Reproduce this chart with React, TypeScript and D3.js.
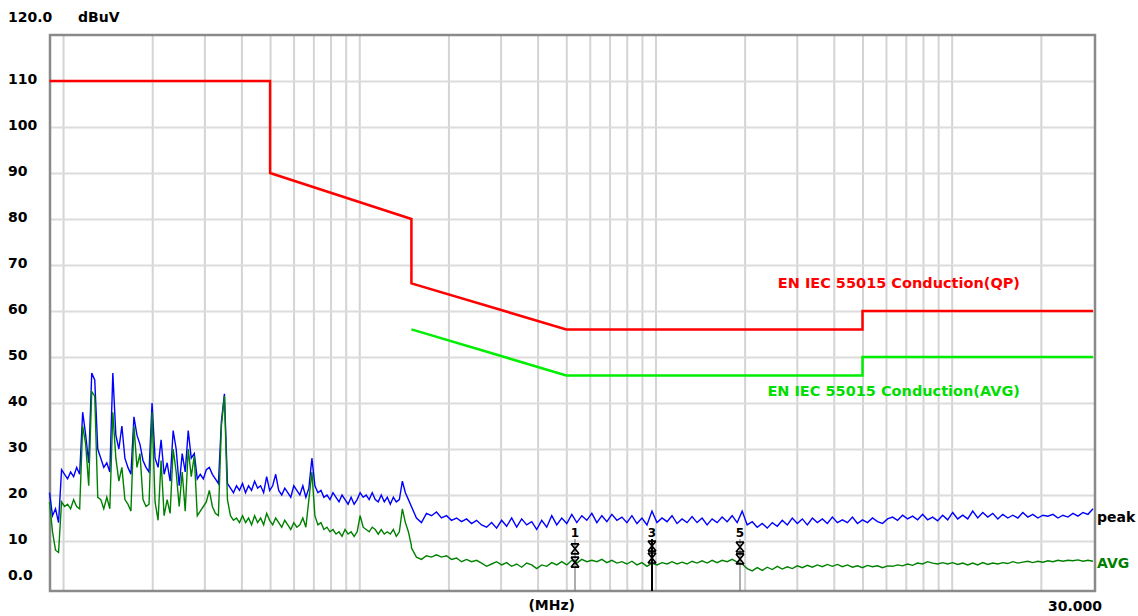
import React, { useEffect, useRef } from 'react';
import * as d3 from 'd3';

const W = 1138;
const H = 616;
const FONT = '"DejaVu Sans", Verdana, sans-serif';

// receiver scan bands in MHz, samples evenly spaced on log frequency inside each band
const bandA = [0.009, 0.15];
const bandB = [0.15, 30];

// dBuV
const peakBandA = [
  20.5, 15.5, 17.0, 14.0, 25.5, 24.5, 23.5, 25.0, 24.0, 26.0,
  24.5, 38.0, 33.0, 27.0, 46.5, 45.0, 30.0, 28.0, 26.0, 27.0,
  25.0, 46.5, 33.0, 30.0, 35.0, 28.0, 26.0, 24.5, 37.0, 33.0,
  31.0, 27.5, 26.0, 25.0, 40.0, 28.0, 26.0, 32.0, 24.5, 27.0,
  23.0, 34.0, 30.0, 22.0, 29.0, 25.0, 34.0, 28.0, 29.0, 23.5,
  24.5, 23.5, 25.5, 26.0, 24.5, 23.5, 22.5, 36.0, 42.0, 22.5,
  21.5, 20.5, 22.0, 21.0, 22.5, 20.5, 22.0, 21.0, 23.0, 21.5,
  22.0, 20.5, 24.0, 21.0, 22.0, 24.5, 21.0, 20.0, 21.5, 20.5,
  19.5, 22.0, 21.0, 20.0, 22.0, 19.5, 21.5, 28.0, 22.0, 20.5,
  21.0, 19.5, 20.0, 19.0, 20.5, 19.5, 18.5, 20.0, 19.0, 18.0,
  19.5, 18.0, 19.0, 20.5, 19.5, 20.0, 19.0, 20.5, 19.0, 18.5,
  20.0, 18.5, 19.5, 18.0, 19.5, 18.5, 19.0, 23.0, 20.5, 19.0,
  17.5,
];
const avgBandA = [
  18.5, 12.0, 8.0, 7.5, 18.5, 17.5, 18.0, 17.0, 19.0, 17.5,
  17.0, 35.0, 31.0, 22.0, 42.5, 41.5, 19.5, 19.0, 17.0, 19.5,
  17.0, 38.0, 28.0, 23.0, 26.0, 19.0, 18.0, 16.5, 35.0, 26.0,
  29.0, 19.0, 17.5, 18.0, 38.0, 18.5, 14.5, 27.5, 15.5, 19.0,
  16.0, 30.0, 25.0, 17.5, 25.0, 16.5, 30.0, 24.0, 28.5, 15.5,
  16.5, 17.5, 18.5, 21.0, 17.5, 16.0, 15.5, 35.0, 41.5, 19.0,
  15.5, 14.5, 15.0, 14.0, 15.5, 14.0, 15.0, 13.5, 15.5, 14.0,
  15.0, 13.5, 16.0, 14.5, 13.5, 15.0, 14.0, 13.0, 14.5, 13.5,
  12.5, 14.0, 13.0, 13.5, 15.0, 13.0, 19.0, 25.0, 15.5, 13.5,
  14.0, 12.5, 13.0, 12.0, 12.5, 11.5, 12.0, 11.0, 12.5, 11.5,
  12.0, 11.0, 12.0, 15.5, 13.0, 12.5, 12.0, 13.0, 12.5, 11.5,
  12.5, 11.5, 12.0, 11.5, 12.5, 11.0, 12.0, 17.0, 14.0, 12.0,
  9.0,
];
const peakBandB = [
  17.5, 15.0, 14.0, 16.0, 15.5, 16.3, 15.0, 15.5, 14.5, 15.0,
  14.2, 14.8, 13.8, 14.5, 13.5, 13.0, 14.0, 12.8, 14.5, 13.2,
  15.0, 13.0, 14.8, 13.5, 14.2, 12.5, 14.5, 13.0, 15.5, 13.5,
  15.0, 13.8, 15.8, 14.0, 15.5, 14.5, 16.0, 14.0, 15.5, 14.2,
  15.8, 14.5, 15.2, 14.0, 15.5, 13.8, 15.0, 13.5, 16.5, 14.0,
  15.0, 14.2, 15.5, 13.8, 14.8, 14.0, 15.3, 14.0, 15.0, 13.5,
  14.8, 14.0, 15.2, 14.2, 15.5, 14.0, 16.5, 13.5, 14.2, 13.0,
  13.8, 12.8, 14.0, 13.2, 14.5, 13.5, 15.0, 13.8, 14.8, 13.5,
  15.0, 14.0, 14.8, 13.8, 15.2, 14.0, 14.6, 14.0, 15.2, 13.8,
  14.6, 14.0, 15.0, 14.2, 13.8, 14.8, 15.2, 14.5, 15.6, 14.8,
  15.4, 14.6, 15.8, 14.6, 15.2, 14.4, 15.6, 14.6, 16.2, 14.8,
  15.6, 14.8, 16.5, 15.0, 16.2, 15.2, 16.0, 14.8, 15.8, 15.0,
  15.6, 15.0, 16.2, 15.2, 15.8, 15.0, 15.6, 15.4, 15.8, 15.0,
  15.6, 15.2, 16.0, 15.4, 16.2, 15.8, 17.0,
];
const avgBandB = [
  8.5, 6.5, 6.0, 6.8, 6.5, 7.0, 6.5, 6.8, 6.0, 6.3,
  5.5, 6.0, 5.5, 5.8, 5.2, 4.5, 5.0, 5.5, 4.8, 5.3,
  4.5, 5.0, 4.3, 5.2, 4.8, 4.0, 4.8, 4.5, 5.3, 4.8,
  5.5, 4.8, 5.8, 5.2, 6.0, 5.5, 5.8, 5.5, 6.0, 5.3,
  5.8, 5.2, 5.5, 5.0, 5.6, 4.8, 5.3, 4.5, 5.2, 4.8,
  5.3, 5.0, 5.5, 5.0, 5.4, 5.0, 5.6, 5.2, 5.7, 5.2,
  5.8, 5.3, 5.8, 5.5, 6.0, 5.4, 5.0, 4.0, 3.5, 4.2,
  3.6, 4.3, 3.8, 4.5, 3.9, 4.4, 4.0, 4.6, 4.2, 4.7,
  4.3, 4.8, 4.4, 4.9, 4.5, 4.9, 4.4, 4.8, 4.3, 4.6,
  4.2, 4.7, 4.4, 4.6, 4.2, 4.6, 4.5, 4.8, 4.6, 5.0,
  4.7, 5.2, 5.0, 5.5, 5.2, 5.0, 5.3, 5.0, 5.3, 4.9,
  5.2, 4.8, 5.2, 4.8, 5.3, 4.9, 5.2, 5.0, 5.3, 5.1,
  5.5, 5.2, 5.4, 5.6, 5.3, 5.6, 5.4, 5.7, 5.5, 5.8,
  5.6, 5.8, 5.7, 5.9, 5.6, 5.8, 5.6,
];

// EN IEC 55015 conducted limits
const qpLimitFreq = [0.009, 0.05, 0.05, 0.15, 0.15, 0.5, 5, 5, 30];
const qpLimitDb = [110, 110, 90, 80, 66, 56, 56, 60, 60];
const avgLimitFreq = [0.15, 0.5, 5, 5, 30];
const avgLimitDb = [56, 46, 46, 50, 50];

// final measurement markers
const markerLabels = ['1', '3', '5'];
const markerFreq = [0.535, 0.977, 1.93];
const markerQp = [8.3, 8.9, 8.7];
const markerAvg = [5.4, 6.3, 6.1];

const yTicks = [110, 100, 90, 80, 70, 60, 50, 40, 30, 20, 10];
const yTickLabels = ['110', '100', '90', '80', '70', '60', '50', '40', '30', '20', '10'];
const gridDecades = [0.01, 0.1, 1, 10];

const scanFreqs = (band: number[], n: number) =>
  d3.range(n).map(i => band[0] * Math.pow(band[1] / band[0], i / (n - 1)));

const EmissionChart = () => {
  const svgRef = useRef<SVGSVGElement>(null);

  useEffect(() => {
    const svg = d3.select(svgRef.current);
    svg.selectAll('*').remove();

    const left = 50;
    const right = 1095;
    const top = 35;
    const bottom = 591;

    const x = d3.scaleLog().domain([0.009, 30]).range([49.5, 1093]);
    const y = d3.scaleLinear().domain([0, 120]).range([587, 35]);

    const gridFreqs: number[] = [];
    gridDecades.forEach(d => {
      for (let m = 1; m <= 9; m++) {
        const f = m * d;
        if (f > 0.009 && f < 30) gridFreqs.push(f);
      }
    });

    // vertical grid
    const gx = svg.append('g')
      .attr('transform', `translate(0, ${top})`)
      .call(d3.axisBottom(x).tickValues(gridFreqs).tickSize(bottom - top).tickFormat(() => ''));
    gx.select('.domain').remove();
    gx.selectAll('line').attr('stroke', '#d4d4d4').attr('stroke-width', 2);

    // horizontal grid
    const gy = svg.append('g')
      .attr('transform', `translate(${left}, 0)`)
      .call(d3.axisLeft(y).tickValues(yTicks).tickSize(-(right - left)).tickFormat(() => ''));
    gy.select('.domain').remove();
    gy.selectAll('line').attr('stroke', '#dcdcdc').attr('stroke-width', 2);

    // frame
    svg.append('rect')
      .attr('x', left).attr('y', top)
      .attr('width', right - left).attr('height', bottom - top)
      .attr('fill', 'none').attr('stroke', '#8a8a8a').attr('stroke-width', 2.5);

    const line = d3.line<[number, number]>().x(d => x(d[0])).y(d => y(d[1]));

    const fa = scanFreqs(bandA, peakBandA.length);
    const fb = scanFreqs(bandB, peakBandB.length);
    const peakPts = [...fa.map((f, i) => [f, peakBandA[i]]), ...fb.map((f, i) => [f, peakBandB[i]])] as [number, number][];
    const avgPts = [...fa.map((f, i) => [f, avgBandA[i]]), ...fb.map((f, i) => [f, avgBandB[i]])] as [number, number][];

    svg.append('path').attr('d', line(peakPts)).attr('fill', 'none')
      .attr('stroke', '#0000ff').attr('stroke-width', 1.4);
    svg.append('path').attr('d', line(avgPts)).attr('fill', 'none')
      .attr('stroke', '#008000').attr('stroke-width', 1.4);

    // limit lines
    svg.append('path')
      .attr('d', line(qpLimitFreq.map((f, i) => [f, qpLimitDb[i]] as [number, number])))
      .attr('fill', 'none').attr('stroke', '#ff0000').attr('stroke-width', 2.5);
    svg.append('path')
      .attr('d', line(avgLimitFreq.map((f, i) => [f, avgLimitDb[i]] as [number, number])))
      .attr('fill', 'none').attr('stroke', '#00ee00').attr('stroke-width', 2.5);

    const text = (t: string, tx: number, ty: number, color = '#000', anchor = 'start', size = 14) =>
      svg.append('text')
        .attr('x', tx).attr('y', ty)
        .attr('fill', color)
        .attr('text-anchor', anchor)
        .attr('dominant-baseline', 'central')
        .attr('font-family', FONT)
        .attr('font-weight', 'bold')
        .attr('font-size', size)
        .text(t);

    // y labels
    text('120.0', 8, 17);
    text('dBuV', 78, 17);
    yTicks.forEach((v, i) => text(yTickLabels[i], 8, y(v) - 2));
    text('0.0', 8, y(0) - 12);

    // x labels
    text('(MHz)', 575, 605, '#000', 'end');
    text('30.000', 1102, 606, '#000', 'end');

    // limit names
    text('EN IEC 55015 Conduction(QP)', 1020, 283, '#ff0000', 'end', 14.5);
    text('EN IEC 55015 Conduction(AVG)', 1020, 391, '#00dd00', 'end', 14.5);

    // trace names
    text('peak', 1097, y(15.2), '#000');
    text('AVG', 1097, y(5.2), '#008000');

    // markers
    const glyph = 'M-4,-5h8M-4,-5L4,5M4,-5L-4,5M-4,5h8';
    markerLabels.forEach((lab, i) => {
      const mx = Math.round(x(markerFreq[i]));
      svg.append('line')
        .attr('x1', mx).attr('x2', mx)
        .attr('y1', 539).attr('y2', bottom)
        .attr('stroke', i === 1 ? '#000' : '#777')
        .attr('stroke-width', i === 1 ? 2 : 1.2);
      text(lab, mx, 533, '#000', 'middle', 12);
      [markerQp[i], markerAvg[i]].forEach(v => {
        svg.append('path')
          .attr('transform', `translate(${mx}, ${y(v)})`)
          .attr('d', glyph)
          .attr('fill', 'none')
          .attr('stroke', '#000')
          .attr('stroke-width', 1.7);
      });
    });
  }, []);

  return (
    <svg
      ref={svgRef}
      width={W}
      height={H}
      style={{ position: 'absolute', left: 0, top: 0, background: '#fff' }}
    />
  );
};

export default function App() {
  return <EmissionChart />;
}
